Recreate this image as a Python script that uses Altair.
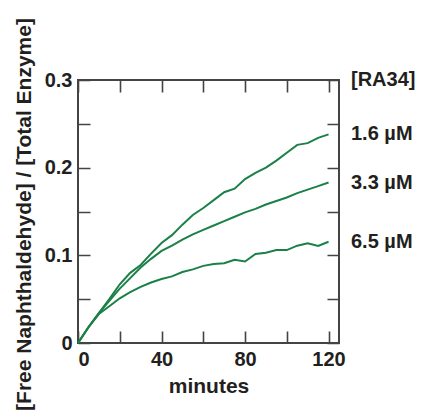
import altair as alt
import pandas as pd

minutes = [0, 5, 10, 15, 20, 25, 30, 35, 40, 45, 50, 55, 60, 65, 70, 75, 80, 85, 90, 95, 100, 105, 110, 115, 120]
ra_1_6 = [0, 0.018, 0.034, 0.050, 0.067, 0.080, 0.089, 0.102, 0.114, 0.123, 0.135, 0.146, 0.154, 0.163, 0.172, 0.176, 0.187, 0.194, 0.200, 0.208, 0.217, 0.226, 0.228, 0.234, 0.238]
ra_3_3 = [0, 0.018, 0.034, 0.048, 0.062, 0.074, 0.086, 0.096, 0.105, 0.111, 0.118, 0.124, 0.129, 0.134, 0.139, 0.144, 0.149, 0.153, 0.158, 0.162, 0.166, 0.171, 0.175, 0.179, 0.183]
ra_6_5 = [0, 0.018, 0.033, 0.042, 0.051, 0.058, 0.064, 0.069, 0.073, 0.076, 0.081, 0.084, 0.088, 0.090, 0.091, 0.095, 0.093, 0.1015, 0.103, 0.106, 0.106, 0.111, 0.1137, 0.1106, 0.1155]
series_names = ["1.6 µM", "3.3 µM", "6.5 µM"]
series_values = [ra_1_6, ra_3_3, ra_6_5]
legend_title = "[RA34]"

x_ticks = [0, 20, 40, 60, 80, 100, 120]
y_ticks = [0, 0.05, 0.1, 0.15, 0.2, 0.25, 0.3]

rows = []
for name, vals in zip(series_names, series_values):
    for t, v in zip(minutes, vals):
        rows.append({"series": name, "minutes": t, "value": v})
df = pd.DataFrame(rows)
labels_df = pd.DataFrame({"series": series_names, "value": [v[-1] for v in series_values]})
header_df = pd.DataFrame({"label": [legend_title], "value": [0.3]})

W, H = 261, 263
TICK = 12
GREEN = "#1b8048"
INK = "#231f20"
FONT = "Liberation Sans"

x_enc = alt.X("minutes:Q",
              scale=alt.Scale(domain=[0, 125], nice=False, zero=False),
              axis=alt.Axis(values=x_ticks, title="minutes",
                            labelExpr="datum.value % 40 == 0 ? datum.label : ''",
                            grid=True, gridDash=[TICK, H - 2 * TICK, TICK],
                            gridColor="#444", gridWidth=1.6, gridOpacity=1,
                            ticks=False, domain=False, labelPadding=6,
                            titleBaseline="alphabetic", titleY=49))
y_enc = alt.Y("value:Q",
              scale=alt.Scale(domain=[0, 0.3], nice=False),
              axis=alt.Axis(values=y_ticks, title="[Free Naphthaldehyde] / [Total Enzyme]",
                            labelExpr="round(datum.value * 100) % 10 == 0 ? format(datum.value, '.1~f') : ''",
                            grid=True, gridDash=[TICK, W - 2 * TICK, TICK],
                            gridColor="#444", gridWidth=1.6, gridOpacity=1,
                            ticks=False, domain=False, labelPadding=6,
                            titleBaseline="alphabetic", titleX=-48, titleY=134))

lines = alt.Chart(df).mark_line(color=GREEN, strokeWidth=2).encode(
    x=x_enc, y=y_enc, detail="series:N")

labels = alt.Chart(labels_df).mark_text(align="left", baseline="middle", font=FONT,
                                        fontWeight="bold", fontSize=20, color=INK).encode(
    x=alt.value(W + 12), y=alt.Y("value:Q"), text="series:N")

header = alt.Chart(header_df).mark_text(align="left", baseline="middle", font=FONT,
                                        fontWeight="bold", fontSize=20, color=INK).encode(
    x=alt.value(W + 12), y=alt.Y("value:Q"), text="label:N")

chart = alt.layer(lines, labels, header).properties(
    width=W, height=H,
    autosize=alt.AutoSizeParams(type="none"),
    padding={"left": 78, "top": 80, "right": 82, "bottom": 76},
).configure_view(stroke="#444", strokeWidth=2).configure_axis(
    labelFont=FONT, labelFontWeight="bold", labelFontSize=20, labelColor=INK,
    titleFont=FONT, titleFontWeight="bold", titleFontSize=21, titleColor=INK,
)

chart.save("out.html", embed_options={"renderer": "svg", "actions": False})
